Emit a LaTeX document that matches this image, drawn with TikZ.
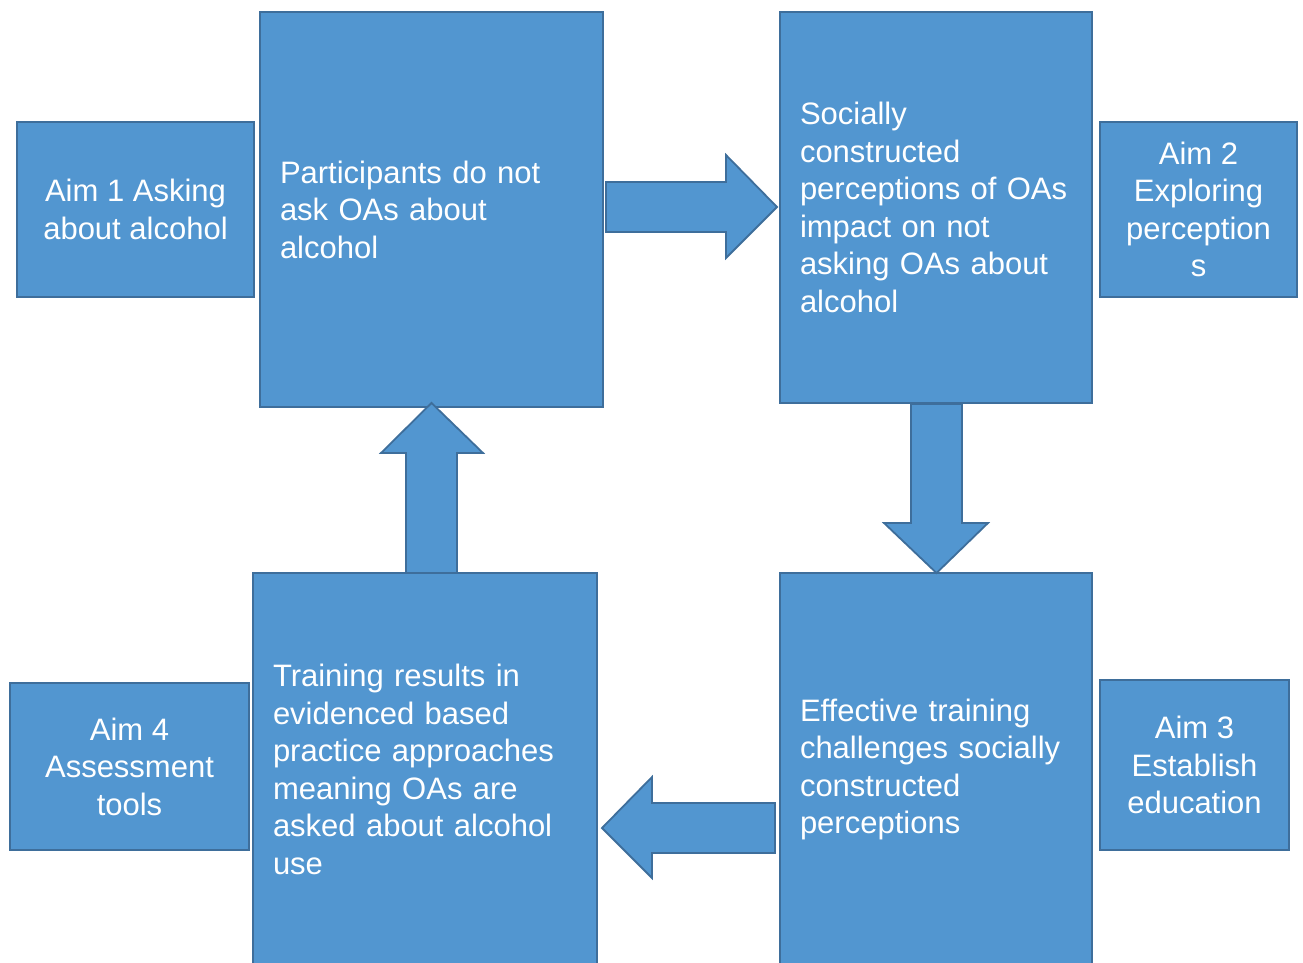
\documentclass[tikz,border=0pt]{standalone}
\usepackage{fontspec}
\setmainfont{Liberation Sans}
\definecolor{boxfill}{RGB}{82,150,208}
\definecolor{boxline}{RGB}{62,110,155}
\begin{document}
\begin{tikzpicture}[x=1pt,y=-1pt,
  base/.style={draw=boxline, fill=boxfill, line width=1.8pt, text=white,
    font=\fontsize{31}{37.5}\selectfont},
  mainbox/.style={base, align=left, inner xsep=20pt, inner ysep=0pt, anchor=center},
  aimbox/.style={base, align=center, inner sep=0pt, anchor=center},
  blockarrow/.style={draw=boxline, fill=boxfill, line width=1.8pt, line join=miter}]
\useasboundingbox (0,0) rectangle (1303,962);
% main boxes
\node[mainbox, text width=303pt, minimum height=395pt] (p) at (431.5,209.5)
  {Participants do not\\ask OAs about\\alcohol};
\node[mainbox, text width=272pt, minimum height=391pt] (s) at (936,207.5)
  {Socially\\constructed\\perceptions of OAs\\impact on not\\asking OAs about\\alcohol};
\node[mainbox, text width=272pt, minimum height=393pt] (e) at (936,769.5)
  {Effective training\\challenges socially\\constructed\\perceptions};
\node[mainbox, text width=304pt, minimum height=393pt] (t) at (425,769.5)
  {Training results in\\evidenced based\\practice approaches\\meaning OAs are\\asked about alcohol\\use};
% aim boxes
\node[aimbox, minimum width=237pt, minimum height=175pt] (a1) at (135.5,209.5)
  {Aim 1 Asking\\about alcohol};
\node[aimbox, minimum width=197pt, minimum height=175pt] (a2) at (1198.5,209.5)
  {Aim 2\\Exploring\\perception\\s};
\node[aimbox, minimum width=189pt, minimum height=170pt] (a3) at (1194.5,765)
  {Aim 3\\Establish\\education};
\node[aimbox, minimum width=239pt, minimum height=167pt] (a4) at (129.5,766.5)
  {Aim 4\\Assessment\\tools};
% block arrows
\draw[blockarrow] (606,182) -- (726,182) -- (726,155) -- (777,207) -- (726,258) -- (726,232) -- (606,232) -- cycle;
\draw[blockarrow] (911,404) -- (962,404) -- (962,523) -- (988,523) -- (936.5,573) -- (884,523) -- (911,523) -- cycle;
\draw[blockarrow] (775,803) -- (652,803) -- (652,777) -- (602,828) -- (652,878) -- (652,853) -- (775,853) -- cycle;
\draw[blockarrow] (406,573) -- (406,453) -- (381,453) -- (431.5,403) -- (483,453) -- (457,453) -- (457,573) -- cycle;
\end{tikzpicture}
\end{document}
